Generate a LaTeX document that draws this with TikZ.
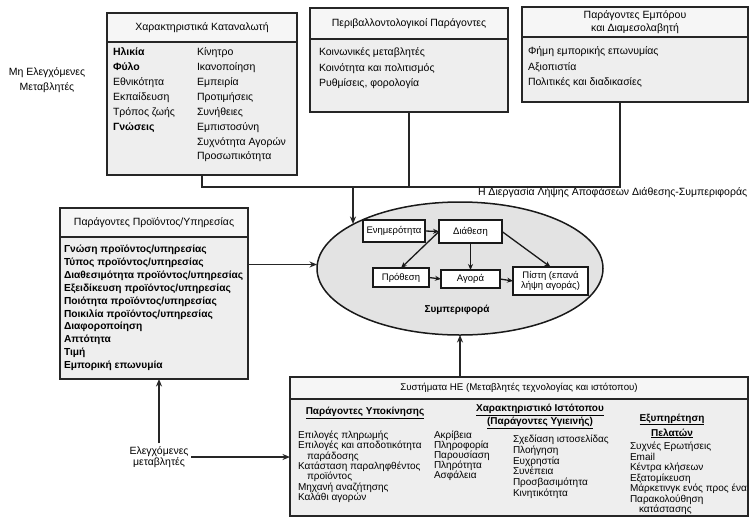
\documentclass[tikz,border=0pt]{standalone}
\usepackage{fontspec}
\setmainfont{Liberation Sans}
\usetikzlibrary{shapes.geometric,arrows.meta,calc}

\begin{document}
\begin{tikzpicture}[x=1pt,y=-1pt,
  every node/.style={inner sep=0pt, outer sep=0pt},
  panel/.style={rectangle, draw=black!85, line width=1.5pt, fill=gray!13, anchor=north west},
  head/.style={panel, fill=gray!7, align=center, font=\fontsize{10.5}{13}\selectfont},
  list/.style={anchor=north west, align=left, font=\fontsize{10.5}{14.85}\selectfont},
  plist/.style={anchor=north west, align=left, font=\fontsize{10.2}{12.9}\selectfont\bfseries},
  slist/.style={anchor=north west, align=left, font=\fontsize{10}{#1}\selectfont},
  slist/.default=10.3,
  colhead/.style={align=center, font=\fontsize{10}{#1}\selectfont\bfseries},
  colhead/.default=13,
  label/.style={align=center, font=\fontsize{10.5}{#1}\selectfont},
  label/.default=13,
  stage/.style={rectangle, draw=black!90, line width=1.4pt, fill=white, align=center,
    font=\fontsize{9.5}{10.5}\selectfont},
  wire/.style={line width=1.2pt, draw=black!85},
  conn/.style={wire, -{Stealth[length=7.5pt,width=6pt]}},
  flow/.style={line width=1.3pt, draw=black!90, -{Stealth[length=6pt,width=5pt]}}
]
\fill[white] (0,0) rectangle (751,522);
\useasboundingbox (0,0) rectangle (751,522);

% ---- consumer characteristics
\node[head, minimum width=190pt, minimum height=29pt] (b1h) at (107,13) {Χαρακτηριστικά Καταναλωτή};
\node[panel, minimum width=190pt, minimum height=133pt] (b1) at (b1h.south west) {};
\node[list] (b1a) at (113,48) {\textbf{Ηλικία}\\\textbf{Φύλο}\\Εθνικότητα\\Εκπαίδευση\\Τρόπος ζωής\\\textbf{Γνώσεις}};
\node[list] (b1b) at (197,48) {Κίνητρο\\Ικανοποίηση\\Εμπειρία\\Προτιμήσεις\\Συνήθειες\\Εμπιστοσύνη\\Συχνότητα Αγορών\\Προσωπικότητα};

% ---- environmental factors
\node[head, minimum width=198pt, minimum height=31pt] (b2h) at (310,8) {Περιβαλλοντολογικοί Παράγοντες};
\node[panel, minimum width=198pt, minimum height=73pt] (b2) at (b2h.south west) {};
\node[list, font=\fontsize{10.5}{15.4}\selectfont] (b2a) at (319,48) {Κοινωνικές μεταβλητές\\Κοινότητα και πολιτισμός\\Ρυθμίσεις, φορολογία};

% ---- merchant and intermediary
\node[head, minimum width=226pt, minimum height=30pt] (b3h) at (522,7) {Παράγοντες Εμπόρου\\και Διαμεσολαβητή};
\node[panel, minimum width=226pt, minimum height=65pt] (b3) at (b3h.south west) {};
\node[list, font=\fontsize{10.5}{15.4}\selectfont] (b3a) at (528,47) {Φήμη εμπορικής επωνυμίας\\Αξιοπιστία\\Πολιτικές και διαδικασίες};

\node[label=15.5] (unc) at (47,80) {Μη Ελεγχόμενες\\Μεταβλητές};

% ---- product / service factors
\node[head, minimum width=188pt, minimum height=29pt] (ph) at (60,208) {Παράγοντες Προϊόντος/Υπηρεσίας};
\node[panel, minimum width=188pt, minimum height=142pt] (prod) at (ph.south west) {};
\node[plist] (pa) at (64,245) {Γνώση προϊόντος/υπηρεσίας\\Τύπος προϊόντος/υπηρεσίας\\Διαθεσιμότητα προϊόντος/υπηρεσίας\\Εξειδίκευση προϊόντος/υπηρεσίας\\Ποιότητα προϊόντος/υπηρεσίας\\Ποικιλία προϊόντος/υπηρεσίας\\Διαφοροποίηση\\Απτότητα\\Τιμή\\Εμπορική επωνυμία};

% ---- decision process
\node[label, anchor=west] (proc) at (478,193) {Η Διεργασία Λήψης Αποφάσεων Διάθεσης-Συμπεριφοράς};
\node[ellipse, draw=black!90, line width=1.5pt, fill=gray!22, minimum width=286pt, minimum height=133pt] (ell) at (460,268.5) {};
\node[stage, minimum width=62pt, minimum height=22pt] (ene) at (394,231) {Ενημερότητα};
\node[stage, minimum width=63pt, minimum height=23pt] (dia) at (470.5,231.5) {Διάθεση};
\node[stage, minimum width=56pt, minimum height=19pt] (pro) at (401,277.5) {Πρόθεση};
\node[stage, minimum width=59pt, minimum height=18pt] (ago) at (470.5,279) {Αγορά};
\node[stage, minimum width=75pt, minimum height=28pt] (pis) at (550.5,281) {Πίστη (επανά\\λήψη αγοράς)};
\node[font=\fontsize{10}{12}\selectfont\bfseries] (beh) at (457,310) {Συμπεριφορά};

\draw[flow] (ene.east) -- (dia.west);
\draw[flow] (dia.west) -- (pro.north);
\draw[flow] (dia.south) -- (ago.north);
\draw[flow] (dia.east) -- (pis.north);
\draw[flow] (pro.east) -- (ago.west);
\draw[flow] (ago.east) -- (pis.west);

% ---- e-commerce systems
\node[head, minimum width=458pt, minimum height=22pt, font=\fontsize{9.7}{12}\selectfont] (hes) at (290,377) {Συστήματα ΗΕ (Μεταβλητές τεχνολογίας και ιστότοπου)};
\node[panel, minimum width=458pt, minimum height=117pt] (hesb) at (hes.south west) {};
\node[colhead] (c1h) at (365,413) {\underline{Παράγοντες Υποκίνησης}};
\node[slist] (c1) at (298,431) {Επιλογές πληρωμής\\Επιλογές και αποδοτικότητα\\\hspace*{9pt}παράδοσης\\Κατάσταση παραληφθέντος\\\hspace*{9pt}προϊόντος\\Μηχανή αναζήτησης\\Καλάθι αγορών};
\node[slist=10] (c2) at (434,431) {Ακρίβεια\\Πληροφορία\\Παρουσίαση\\Πληρότητα\\Ασφάλεια};
\node[colhead] (c3h) at (540,416.5) {\underline{Χαρακτηριστικό Ιστότοπου}\\\underline{(Παράγοντες Υγιεινής)}};
\node[slist=10.8] (c3) at (513,435) {Σχεδίαση ιστοσελίδας\\Πλοήγηση\\Ευχρηστία\\Συνέπεια\\Προσβασιμότητα\\Κινητικότητα};
\node[colhead=15] (c4h) at (672,426) {\underline{Εξυπηρέτηση}\\\underline{Πελατών}};
\node[slist=10.5] (c4) at (630,442) {Συχνές Ερωτήσεις\\Email\\Κέντρα κλήσεων\\Εξατομίκευση\\Μάρκετινγκ ενός προς ένα\\Παρακολούθηση\\\hspace*{9pt}κατάστασης};

\node[label=11.5, inner sep=3pt] (ctrl) at (159,457) {Ελεγχόμενες\\μεταβλητές};

% ---- connectors
\coordinate (bus) at (353,187);
\coordinate (b3o) at ([xshift=-15pt]b3.south);
\coordinate (etop) at (353,224);
\draw[wire] (b1.south) |- (b3o |- bus) -- (b3o);
\draw[wire] (b2.south) -- (b2.south |- bus);
\draw[conn] (bus) -- (etop);
\draw[conn] ([yshift=4pt]prod.east |- ell.west) -- ([yshift=4pt]ell.west);
\draw[conn] (hes.north -| ell.south) -- (ell.south);
\draw[conn] (ctrl.north) -- (ctrl.north |- prod.south);
\draw[conn] (ctrl.east) -- (ctrl.east -| hesb.west);
\end{tikzpicture}
\end{document}
